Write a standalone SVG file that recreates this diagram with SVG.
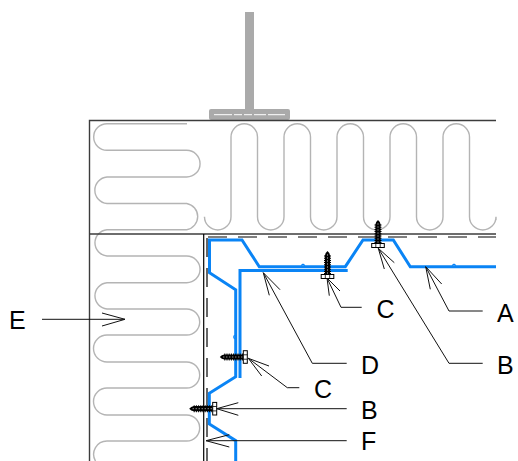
<svg xmlns="http://www.w3.org/2000/svg" width="518" height="461" viewBox="0 0 518 461">
<style>
.ins{fill:none;stroke:#b4b4b4;stroke-width:1.4}
.wall{fill:none;stroke:#3c3c3c;stroke-width:1.4}
.blue{fill:none;stroke:#0a84f5;stroke-width:3;stroke-linejoin:miter}
.lead{fill:none;stroke:#111;stroke-width:1}
.lbl{font-family:"Liberation Sans",Arial,sans-serif;font-size:25px;fill:#000}
</style>
<defs>
<g id="screw">
<path d="M0 -23.5 L-1.8 -21.5 L-2.6 -19 L-2.6 0 L2.6 0 L2.6 -19 L1.8 -21.5 Z" fill="#000"/>
<path d="M0 -19V0" stroke="#000" stroke-width="7" stroke-dasharray="1 1.2" fill="none"/>
<path d="M0 -20 V0" stroke="#fff" stroke-width="0.8" stroke-dasharray="1 2" fill="none"/>
<rect x="-6.3" y="0" width="12.6" height="4" fill="#fff" stroke="#000" stroke-width="1"/>
<path d="M-2.2 0V4M2.2 0V4" stroke="#000" stroke-width="0.8"/>
</g>
</defs>
<g id="post">
<rect x="245" y="12" width="9" height="98" fill="#aaa"/>
<rect x="209" y="109" width="81" height="11" rx="2" fill="#aaa"/>
<path d="M214 114.7H285" stroke="#fff" stroke-width="1" stroke-dasharray="18 2 8 2 8 2 12 2 18 2 6 2" fill="none"/>
</g>
<g id="insulation">
<path class="ins" d="M187 123.7H107A13.3 13.3 0 0 0 107 150.3H186.7A13.3 13.3 0 0 1 186.7 177H107A13.3 13.3 0 0 0 107 203.5H186.7A13.3 13.3 0 0 1 186.7 229.7H107A13.2 13.2 0 0 0 107 256H186.7A13.3 13.3 0 0 1 186.7 282.7H107A13.2 13.2 0 0 0 107 309H186.7A13 13 0 0 1 186.7 335H107A13.5 13.5 0 0 0 107 362H186.7A13 13 0 0 1 186.7 388H107A13.5 13.5 0 0 0 107 415H186.7A13 13 0 0 1 186.7 441H107A13.3 13.3 0 0 0 95.5 461"/>
<path class="ins" d="M204.5 218V216.7A13.25 13.25 0 0 0 231 216.7V137A13.25 13.25 0 0 1 257.5 137V216.7A13.25 13.25 0 0 0 284 216.7V137A13.25 13.25 0 0 1 310.5 137V216.7A13.25 13.25 0 0 0 337 216.7V137A13.25 13.25 0 0 1 363.5 137V216.7A13.25 13.25 0 0 0 390 216.7V137A13.25 13.25 0 0 1 416.5 137V216.7A13.25 13.25 0 0 0 443 216.7V137A13.25 13.25 0 0 1 469.5 137V216.7A13.25 13.25 0 0 0 496 216.7V220"/>
</g>
<g id="walls">
<path class="wall" d="M496 120.5H89.5V461"/>
<path class="wall" d="M89.5 234H496"/>
<path d="M203.7 234V461" fill="none" stroke="#000" stroke-width="1.2"/>
<path d="M208 237H496" fill="none" stroke="#000" stroke-width="1.2" stroke-dasharray="19 11"/>
<path d="M207 238V461" fill="none" stroke="#000" stroke-width="1.2" stroke-dasharray="19 11"/>
</g>
<g id="profile">
<path class="blue" d="M496 266.7H410.3L393.3 240H363L345.3 266.7H259.3L242 240H209.5V272.7L235.7 289.7V376.7L209.3 393.3V424L235.7 440.7V461"/>
<path class="blue" d="M347.7 270.5H240V378"/>
<path d="M301 265.5L303 264.3L305 265.5M452 265.5L454 264.3L456 265.5M234.5 335L233.7 337L234.5 339" fill="none" stroke="#0a84f5" stroke-width="1.2"/>
</g>
<g id="screws">
<use href="#screw" transform="translate(327.5 274.5)"/>
<use href="#screw" transform="translate(378 243.5)"/>
<use href="#screw" transform="translate(243.3 357) rotate(-90)"/>
<use href="#screw" transform="translate(212.7 408.7) rotate(-90)"/>
</g>
<g id="connectors">
<path class="lead" d="M42 319.3H125M102 313L125 319.3L102 326"/>
<path class="lead" d="M346.7 363.3H312.3L263.3 272.7M280 289.7L263.3 272.7L269.3 295.3"/>
<path class="lead" d="M361.7 307.3H341L327 278M340 291L327 278L329.3 295.7"/>
<path class="lead" d="M482.7 363.3H449L378.3 248.3M394.3 262.7L378.3 248.3L384.3 269"/>
<path class="lead" d="M482.7 311H449L425.7 266.7M441.7 284L425.7 266.7L430.3 289.3"/>
<path class="lead" d="M299.3 387.7H287.3L248.3 358.3M269 366L248.3 358.3L261.7 376"/>
<path class="lead" d="M346.7 408.7H216.7M238.3 402.7L216.7 408.7L238.3 415.3"/>
<path class="lead" d="M346.7 440.7H206M229.3 434.7L206 440.7L229.3 447"/>
</g>
<g id="labels">
<text class="lbl" x="9" y="329">E</text>
<text class="lbl" x="376.5" y="318">C</text>
<text class="lbl" x="497" y="322">A</text>
<text class="lbl" x="361" y="373.5">D</text>
<text class="lbl" x="497" y="373.5">B</text>
<text class="lbl" x="314" y="398">C</text>
<text class="lbl" x="361" y="418.5">B</text>
<text class="lbl" x="361" y="450">F</text>
</g>
</svg>
